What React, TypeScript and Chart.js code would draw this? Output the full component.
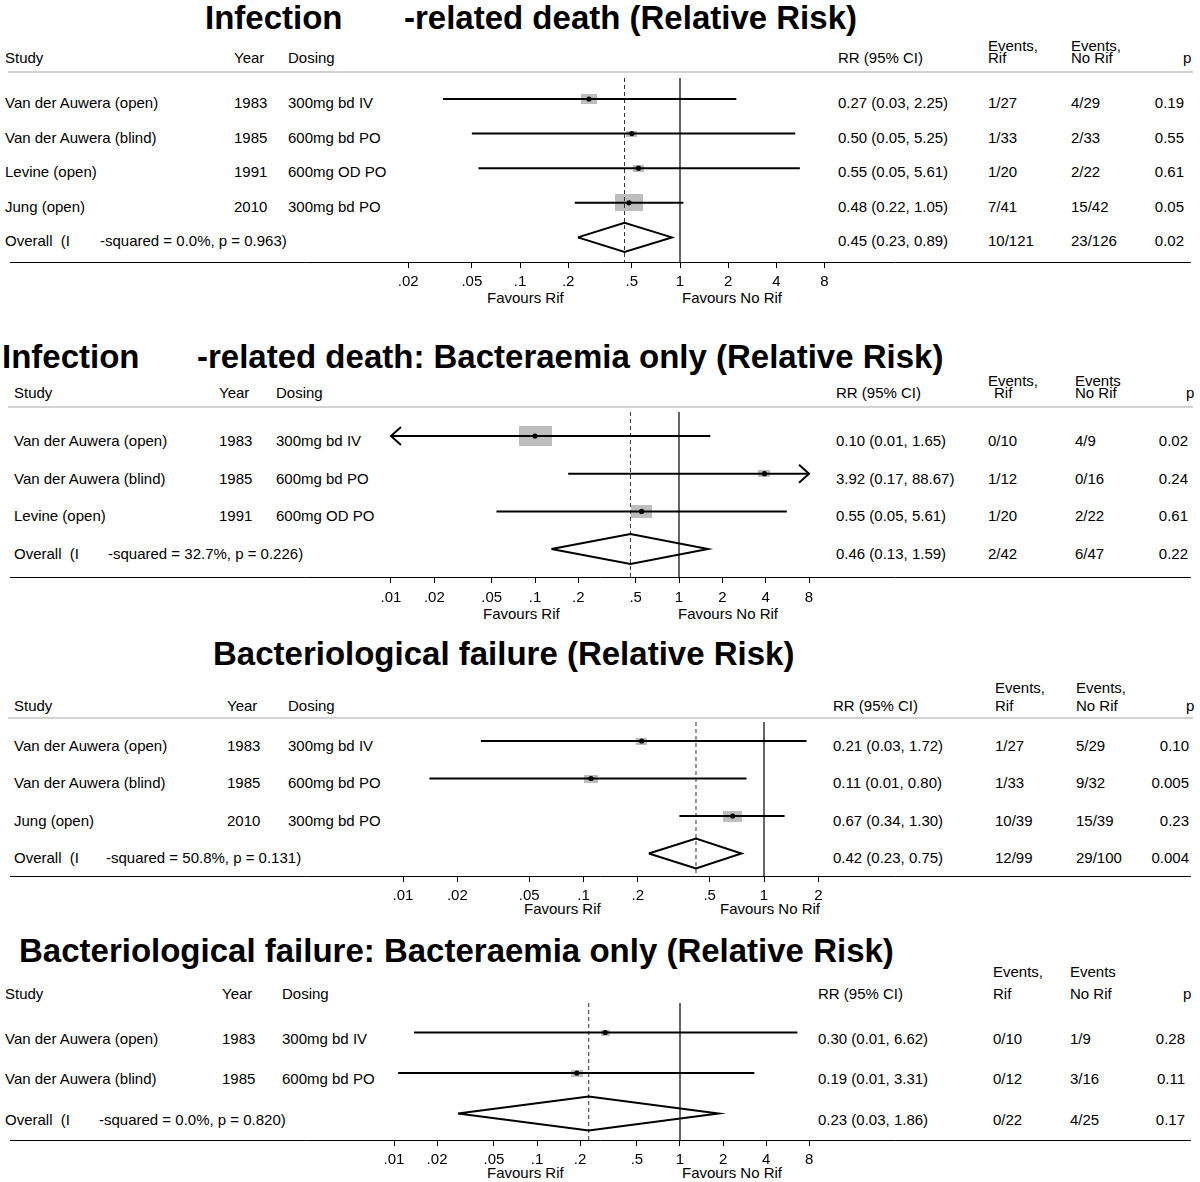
import React, { useEffect, useRef } from 'react';
import { Chart, registerables } from 'chart.js';

Chart.register(...registerables);

const FONT = '"Liberation Sans", Arial, Helvetica, sans-serif';

// ================= DATA =================
// Panel 1: Infection-related death (Relative Risk)
const p1Studies = ['Van der Auwera (open)', 'Van der Auwera (blind)', 'Levine (open)', 'Jung (open)'];
const p1Years = ['1983', '1985', '1991', '2010'];
const p1Dosing = ['300mg bd IV', '600mg bd PO', '600mg OD PO', '300mg bd PO'];
const p1RR = [0.27, 0.5, 0.55, 0.48];
const p1Lo = [0.033, 0.05, 0.055, 0.22];
const p1Hi = [2.25, 5.25, 5.61, 1.05];
const p1Weight = [21, 9, 10, 60];
const p1RRText = ['0.27 (0.03, 2.25)', '0.50 (0.05, 5.25)', '0.55 (0.05, 5.61)', '0.48 (0.22, 1.05)'];
const p1EvRif = ['1/27', '1/33', '1/20', '7/41'];
const p1EvNoRif = ['4/29', '2/33', '2/22', '15/42'];
const p1P = ['0.19', '0.55', '0.61', '0.05'];
const p1Overall = [0.45, 0.23, 0.89];
const p1OverallText = ['0.45 (0.23, 0.89)', '10/121', '23/126', '0.02'];
const p1Het = '-squared = 0.0%, p = 0.963)';
const p1Ticks = [0.02, 0.05, 0.1, 0.2, 0.5, 1, 2, 4, 8];
const p1TickLabels = ['.02', '.05', '.1', '.2', '.5', '1', '2', '4', '8'];

// Panel 2: Infection-related death: Bacteraemia only
const p2Studies = ['Van der Auwera (open)', 'Van der Auwera (blind)', 'Levine (open)'];
const p2Years = ['1983', '1985', '1991'];
const p2Dosing = ['300mg bd IV', '600mg bd PO', '600mg OD PO'];
const p2RR = [0.1, 3.92, 0.55];
const p2Lo = [0.006, 0.17, 0.054];
const p2Hi = [1.65, 88.67, 5.61];
const p2Weight = [65, 9, 27];
const p2RRText = ['0.10 (0.01, 1.65)', '3.92 (0.17, 88.67)', '0.55 (0.05, 5.61)'];
const p2EvRif = ['0/10', '1/12', '1/20'];
const p2EvNoRif = ['4/9', '0/16', '2/22'];
const p2P = ['0.02', '0.24', '0.61'];
const p2Overall = [0.46, 0.13, 1.59];
const p2OverallText = ['0.46 (0.13, 1.59)', '2/42', '6/47', '0.22'];
const p2Het = '-squared = 32.7%, p = 0.226)';
const p2Ticks = [0.01, 0.02, 0.05, 0.1, 0.2, 0.5, 1, 2, 4, 8];
const p2TickLabels = ['.01', '.02', '.05', '.1', '.2', '.5', '1', '2', '4', '8'];

// Panel 3: Bacteriological failure
const p3Studies = ['Van der Auwera (open)', 'Van der Auwera (blind)', 'Jung (open)'];
const p3Years = ['1983', '1985', '2010'];
const p3Dosing = ['300mg bd IV', '600mg bd PO', '300mg bd PO'];
const p3RR = [0.21, 0.11, 0.67];
const p3Lo = [0.027, 0.014, 0.34];
const p3Hi = [1.72, 0.8, 1.3];
const p3Weight = [18, 29, 53];
const p3RRText = ['0.21 (0.03, 1.72)', '0.11 (0.01, 0.80)', '0.67 (0.34, 1.30)'];
const p3EvRif = ['1/27', '1/33', '10/39'];
const p3EvNoRif = ['5/29', '9/32', '15/39'];
const p3P = ['0.10', '0.005', '0.23'];
const p3Overall = [0.42, 0.23, 0.75];
const p3OverallText = ['0.42 (0.23, 0.75)', '12/99', '29/100', '0.004'];
const p3Het = '-squared = 50.8%, p = 0.131)';
const p3Ticks = [0.01, 0.02, 0.05, 0.1, 0.2, 0.5, 1, 2];
const p3TickLabels = ['.01', '.02', '.05', '.1', '.2', '.5', '1', '2'];

// Panel 4: Bacteriological failure: Bacteraemia only
const p4Studies = ['Van der Auwera (open)', 'Van der Auwera (blind)'];
const p4Years = ['1983', '1985'];
const p4Dosing = ['300mg bd IV', '600mg bd PO'];
const p4RR = [0.3, 0.19];
const p4Lo = [0.0138, 0.0107];
const p4Hi = [6.62, 3.31];
const p4Weight = [38, 62];
const p4RRText = ['0.30 (0.01, 6.62)', '0.19 (0.01, 3.31)'];
const p4EvRif = ['0/10', '0/12'];
const p4EvNoRif = ['1/9', '3/16'];
const p4P = ['0.28', '0.11'];
const p4Overall = [0.23, 0.028, 1.86];
const p4OverallText = ['0.23 (0.03, 1.86)', '0/22', '4/25', '0.17'];
const p4Het = '-squared = 0.0%, p = 0.820)';
const p4Ticks = [0.01, 0.02, 0.05, 0.1, 0.2, 0.5, 1, 2, 4, 8];
const p4TickLabels = ['.01', '.02', '.05', '.1', '.2', '.5', '1', '2', '4', '8'];

// ================= LAYOUT =================
const panels = [
  {
    data: {
      studies: p1Studies, years: p1Years, dosing: p1Dosing, rr: p1RR, lo: p1Lo, hi: p1Hi, weight: p1Weight,
      rrText: p1RRText, ev1: p1EvRif, ev2: p1EvNoRif, p: p1P, overall: p1Overall, overallText: p1OverallText,
      het: p1Het, ticks: p1Ticks, tickLabels: p1TickLabels,
      title: [{ t: 'Infection', x: 205 }, { t: '-related death (Relative Risk)', x: 404 }],
      ev1Head: ['Events,', 'Rif'], ev2Head: ['Events,', 'No Rif'],
    },
    L: {
      titleY: 17, headerY: 57, evTopY: 45, grayLineY: 72, top: 78, axisY: 262, firstRowY: 99, rowGap: 34.6,
      textOffset: 3, onePx: 680, ppd: 160, boxScale: 3.6, diamondHalf: 14.5,
      study: 5, year: 234, dosing: 288, rr: 838, ev1: 988, ev1b: 988, ev2: 1071, pRight: 1184, pHead: 1183,
      hetX: 100, favY: 297, favRifX: 487, favNoRifX: 682, tickPad: 5,
    },
  },
  {
    data: {
      studies: p2Studies, years: p2Years, dosing: p2Dosing, rr: p2RR, lo: p2Lo, hi: p2Hi, weight: p2Weight,
      rrText: p2RRText, ev1: p2EvRif, ev2: p2EvNoRif, p: p2P, overall: p2Overall, overallText: p2OverallText,
      het: p2Het, ticks: p2Ticks, tickLabels: p2TickLabels,
      title: [{ t: 'Infection', x: 2 }, { t: '-related death: Bacteraemia only (Relative Risk)', x: 197 }],
      ev1Head: ['Events,', 'Rif'], ev2Head: ['Events', 'No Rif'],
    },
    L: {
      titleY: 356, headerY: 392, evTopY: 380, grayLineY: 407, top: 412, axisY: 577, firstRowY: 436, rowGap: 37.7,
      textOffset: 4, onePx: 679, ppd: 144, boxScale: 4.1, diamondHalf: 15,
      study: 14, year: 219, dosing: 276, rr: 836, ev1: 988, ev1b: 994, ev2: 1075, pRight: 1188, pHead: 1186,
      hetX: 108, favY: 613, favRifX: 483, favNoRifX: 678, tickPad: 6,
    },
  },
  {
    data: {
      studies: p3Studies, years: p3Years, dosing: p3Dosing, rr: p3RR, lo: p3Lo, hi: p3Hi, weight: p3Weight,
      rrText: p3RRText, ev1: p3EvRif, ev2: p3EvNoRif, p: p3P, overall: p3Overall, overallText: p3OverallText,
      het: p3Het, ticks: p3Ticks, tickLabels: p3TickLabels,
      title: [{ t: 'Bacteriological failure (Relative Risk)', x: 213 }],
      ev1Head: ['Events,', 'Rif'], ev2Head: ['Events,', 'No Rif'],
    },
    L: {
      titleY: 653, headerY: 705, evTopY: 687, grayLineY: 718, top: 722, axisY: 876, firstRowY: 741, rowGap: 37.5,
      textOffset: 3.5, onePx: 764, ppd: 180.5, boxScale: 2.6, diamondHalf: 15,
      study: 14, year: 227, dosing: 288, rr: 833, ev1: 995, ev1b: 995, ev2: 1076, pRight: 1189, pHead: 1186,
      hetX: 106, favY: 908, favRifX: 524, favNoRifX: 720, tickPad: 5,
    },
  },
  {
    data: {
      studies: p4Studies, years: p4Years, dosing: p4Dosing, rr: p4RR, lo: p4Lo, hi: p4Hi, weight: p4Weight,
      rrText: p4RRText, ev1: p4EvRif, ev2: p4EvNoRif, p: p4P, overall: p4Overall, overallText: p4OverallText,
      het: p4Het, ticks: p4Ticks, tickLabels: p4TickLabels,
      title: [{ t: 'Bacteriological failure: Bacteraemia only (Relative Risk)', x: 19 }],
      ev1Head: ['Events,', 'Rif'], ev2Head: ['Events', 'No Rif'],
    },
    L: {
      titleY: 950, headerY: 993, evTopY: 971, grayLineY: null, top: 1003, axisY: 1140, firstRowY: 1032.5, rowGap: 40.5,
      textOffset: 5, onePx: 680, ppd: 143, boxScale: 1.52, diamondHalf: 17,
      study: 5, year: 222, dosing: 282, rr: 818, ev1: 993, ev1b: 993, ev2: 1070, pRight: 1185, pHead: 1183,
      hetX: 99, favY: 1172, favRifX: 487, favNoRifX: 682, tickPad: 5,
    },
  },
];

const AXH = 44;
const BOX_ASPECT = 0.6;

function makeBox(w: number, h: number) {
  const c = document.createElement('canvas');
  c.width = Math.max(1, Math.round(w));
  c.height = Math.max(1, Math.round(h));
  const g = c.getContext('2d')!;
  g.fillStyle = '#bdbdbd';
  g.fillRect(0, 0, c.width, c.height);
  return c;
}

function ForestChart({ d, L }: { d: any; L: any }) {
  const ref = useRef<HTMLCanvasElement | null>(null);
  const height = L.axisY - L.top + AXH;
  useEffect(() => {
    const canvas = ref.current;
    if (!canvas) return;
    const xMin = Math.pow(10, (10 - L.onePx) / L.ppd);
    const xMax = Math.pow(10, (1190 - L.onePx) / L.ppd);
    const row = (py: number) => 1 + (py - L.firstRowY) / L.rowGap;
    const yMin = row(L.top);
    const yMax = row(L.axisY);
    const tMin = d.ticks[0];
    const tMax = d.ticks[d.ticks.length - 1];
    const n = d.rr.length;
    const oRow = n + 1;
    const arrowDx = Math.pow(10, 10 / L.ppd);
    const arrowDy = 9 / L.rowGap;
    const ln = (pts: any[], extra: any = {}) => ({
      data: pts, showLine: true, pointRadius: 0, borderColor: '#000', borderWidth: 2,
      fill: false, tension: 0, borderCapStyle: 'butt', ...extra,
    });
    const datasets: any[] = [];
    // weight boxes
    datasets.push({
      data: d.rr.map((v: number, i: number) => ({ x: v, y: i + 1 })),
      pointStyle: d.weight.map((w: number) => makeBox(L.boxScale * Math.sqrt(w), L.boxScale * Math.sqrt(w) * BOX_ASPECT)),
      pointRadius: 5, showLine: false, order: 10,
    });
    // reference lines
    datasets.push(ln([{ x: 1, y: yMin }, { x: 1, y: yMax }], { borderWidth: 1.2, order: 9 }));
    datasets.push(ln([{ x: d.overall[0], y: yMin }, { x: d.overall[0], y: yMax }], { borderWidth: 1, borderDash: [4, 3], borderColor: '#333', order: 9 }));
    // CIs
    d.rr.forEach((_: number, i: number) => {
      const a = Math.max(d.lo[i], tMin);
      const b = Math.min(d.hi[i], tMax);
      datasets.push(ln([{ x: a, y: i + 1 }, { x: b, y: i + 1 }], { order: 8 }));
      if (d.lo[i] < tMin) {
        datasets.push(ln([{ x: tMin * arrowDx, y: i + 1 - arrowDy }, { x: tMin, y: i + 1 }, { x: tMin * arrowDx, y: i + 1 + arrowDy }], { order: 8 }));
      }
      if (d.hi[i] > tMax) {
        datasets.push(ln([{ x: tMax / arrowDx, y: i + 1 - arrowDy }, { x: tMax, y: i + 1 }, { x: tMax / arrowDx, y: i + 1 + arrowDy }], { order: 8 }));
      }
    });
    // diamond
    const h = L.diamondHalf / L.rowGap;
    const [orr, olo, ohi] = d.overall;
    datasets.push(ln([
      { x: olo, y: oRow }, { x: orr, y: oRow - h }, { x: ohi, y: oRow }, { x: orr, y: oRow + h }, { x: olo, y: oRow },
    ], { order: 7, borderJoinStyle: 'miter' }));
    // dots
    datasets.push({
      data: d.rr.map((v: number, i: number) => ({ x: v, y: i + 1 })),
      pointRadius: 2.6, pointBackgroundColor: '#000', pointBorderWidth: 0, showLine: false, order: 1,
    });

    const chart = new Chart(canvas, {
      type: 'scatter',
      data: { datasets },
      options: {
        responsive: false,
        animation: false,
        events: [],
        layout: { padding: { left: 10, right: 10, top: 0, bottom: 0 }, autoPadding: false },
        plugins: { legend: { display: false }, tooltip: { enabled: false } },
        scales: {
          x: {
            type: 'logarithmic', min: xMin, max: xMax, bounds: 'data', position: 'bottom',
            afterBuildTicks: (s: any) => { s.ticks = d.ticks.map((v: number) => ({ value: v })); },
            afterFit: (s: any) => { s.height = AXH; },
            grid: { display: true, drawOnChartArea: false, drawTicks: true, tickLength: 6, tickColor: '#000', tickWidth: 1 },
            border: { display: true, color: '#000', width: 1 },
            ticks: {
              autoSkip: false, maxRotation: 0, minRotation: 0, padding: L.tickPad, color: '#000',
              font: { family: FONT, size: 15 },
              callback: (_v: any, i: number) => d.tickLabels[i],
            },
          } as any,
          y: { type: 'linear', display: false, reverse: true, min: yMin, max: yMax },
        },
      },
    } as any);
    return () => chart.destroy();
  }, []);
  return (
    <canvas
      ref={ref}
      width={1200}
      height={height}
      style={{ position: 'absolute', left: 0, top: L.top, width: 1200, height }}
    />
  );
}

function T({ x, y, children, size = 15, bold = false, right = false }: any) {
  return (
    <div
      style={{
        position: 'absolute', left: x, top: y,
        transform: right ? 'translate(-100%, -50%)' : 'translateY(-50%)',
        fontFamily: FONT, fontSize: size, fontWeight: bold ? 700 : 400,
        lineHeight: 1, whiteSpace: 'pre', color: '#000',
      }}
    >
      {children}
    </div>
  );
}

function Panel({ d, L }: { d: any; L: any }) {
  const n = d.rr.length;
  const rowY = (k: number) => L.firstRowY + (k - 1) * L.rowGap + L.textOffset;
  return (
    <>
      {d.title.map((t: any, i: number) => (
        <T key={'t' + i} x={t.x} y={L.titleY} size={33} bold>{t.t}</T>
      ))}
      <T x={L.study} y={L.headerY}>Study</T>
      <T x={L.year} y={L.headerY}>Year</T>
      <T x={L.dosing} y={L.headerY}>Dosing</T>
      <T x={L.rr} y={L.headerY}>RR (95% CI)</T>
      <T x={L.ev1} y={L.evTopY}>{d.ev1Head[0]}</T>
      <T x={L.ev1b} y={L.headerY}>{d.ev1Head[1]}</T>
      <T x={L.ev2} y={L.evTopY}>{d.ev2Head[0]}</T>
      <T x={L.ev2} y={L.headerY}>{d.ev2Head[1]}</T>
      <T x={L.pHead} y={L.headerY}>p</T>
      {L.grayLineY != null && (
        <div style={{ position: 'absolute', left: 8, top: L.grayLineY - 1, width: 1185, height: 2, background: '#d2d2d2' }} />
      )}
      {d.studies.map((s: string, i: number) => (
        <React.Fragment key={'r' + i}>
          <T x={L.study} y={rowY(i + 1)}>{s}</T>
          <T x={L.year} y={rowY(i + 1)}>{d.years[i]}</T>
          <T x={L.dosing} y={rowY(i + 1)}>{d.dosing[i]}</T>
          <T x={L.rr} y={rowY(i + 1)}>{d.rrText[i]}</T>
          <T x={L.ev1} y={rowY(i + 1)}>{d.ev1[i]}</T>
          <T x={L.ev2} y={rowY(i + 1)}>{d.ev2[i]}</T>
          <T x={L.pRight} y={rowY(i + 1)} right>{d.p[i]}</T>
        </React.Fragment>
      ))}
      <T x={L.study} y={rowY(n + 1)}>{'Overall  (I'}</T>
      <T x={L.hetX} y={rowY(n + 1)}>{d.het}</T>
      <T x={L.rr} y={rowY(n + 1)}>{d.overallText[0]}</T>
      <T x={L.ev1} y={rowY(n + 1)}>{d.overallText[1]}</T>
      <T x={L.ev2} y={rowY(n + 1)}>{d.overallText[2]}</T>
      <T x={L.pRight} y={rowY(n + 1)} right>{d.overallText[3]}</T>
      <T x={L.favRifX} y={L.favY}>Favours Rif</T>
      <T x={L.favNoRifX} y={L.favY}>Favours No Rif</T>
      <ForestChart d={d} L={L} />
    </>
  );
}

export default function App() {
  return (
    <div style={{ position: 'absolute', left: 0, top: 0, width: 1200, height: 1182, background: '#fff', overflow: 'hidden' }}>
      {panels.map((p, i) => (
        <Panel key={i} d={p.data} L={p.L} />
      ))}
    </div>
  );
}
